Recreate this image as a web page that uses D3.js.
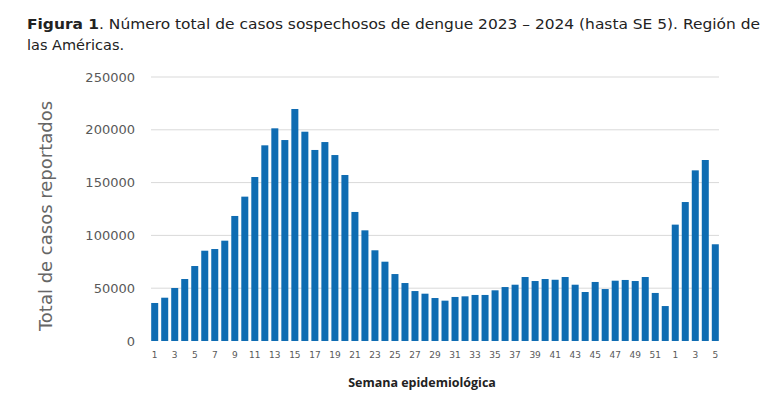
<!DOCTYPE html>
<html>
<head>
<meta charset="utf-8">
<script src="https://cdn.jsdelivr.net/npm/d3@7"></script>
<style>
  body { margin: 0; background: #fff; }
  svg { display: block; }
</style>
</head>
<body>
<div id="chart"></div>
<script>
// cases per epi week, 2023 (SE 1-52) then 2024 (SE 1-5)
var weeks2023 = d3.range(1, 53);
var weeks2024 = [1, 2, 3, 4, 5];
var cases2023 = [36000, 41000, 50200, 58700, 71000, 85500, 87100, 95000, 118400, 136700,
  155300, 185300, 201400, 190300, 219700, 198200, 180900, 188400, 176100, 157200,
  122200, 104800, 85900, 75100, 63400, 54900, 47300, 44800, 40700, 38200,
  41700, 42300, 43600, 43600, 48000, 51100, 53300, 60600, 56800, 58700,
  58000, 60600, 53300, 46400, 55900, 49200, 57100, 57800, 56800, 60600,
  45500, 33100];
var cases2024 = [110200, 131600, 161600, 171400, 91600];
var yTicks = [0, 50000, 100000, 150000, 200000, 250000];

var data = weeks2023.map(function(w, i) { return { key: "2023-" + w, week: w, value: cases2023[i] }; })
  .concat(weeks2024.map(function(w, i) { return { key: "2024-" + w, week: w, value: cases2024[i] }; }));

// note: "top" is reserved on window, so plot edges get a prefix
var svgWidth = 777, svgHeight = 393;
var plotLeft = 151, plotRight = 719, plotTop = 77, plotBottom = 341;

var svg = d3.select("#chart").append("svg")
  .attr("width", svgWidth)
  .attr("height", svgHeight);

// title
var title = svg.append("text")
  .attr("x", 27).attr("y", 29)
  .style("font-family", "'DejaVu Sans', sans-serif")
  .style("font-size", "14.5px")
  .attr("fill", "#222");
title.append("tspan").attr("font-weight", "bold").text("Figura 1");
title.append("tspan").text(". Número total de casos sospechosos de dengue 2023 – 2024 (hasta SE 5). Región de");
title.attr("textLength", 733).attr("lengthAdjust", "spacingAndGlyphs");

svg.append("text")
  .attr("x", 27).attr("y", 50)
  .style("font-family", "'DejaVu Sans', sans-serif")
  .style("font-size", "14.5px")
  .attr("fill", "#222")
  .text("las Américas.");

var x = d3.scaleBand()
  .domain(data.map(function(d) { return d.key; }))
  .range([plotLeft, plotRight])
  .paddingInner(0.3)
  .paddingOuter(0.02);

var y = d3.scaleLinear()
  .domain([0, 250000])
  .range([plotBottom, plotTop]);

// gridlines
svg.append("g")
  .selectAll("line")
  .data(yTicks.filter(function(t) { return t > 0; }))
  .enter()
  .append("line")
    .attr("x1", plotLeft).attr("x2", plotRight)
    .attr("y1", function(d) { return y(d); })
    .attr("y2", function(d) { return y(d); })
    .attr("stroke", "#d9d9d9")
    .attr("stroke-width", 1);

// y axis labels
var yAxis = svg.append("g")
  .attr("transform", "translate(" + (plotLeft - 16) + ",0)")
  .call(d3.axisLeft(y).tickValues(yTicks).tickSize(0).tickPadding(0).tickFormat(d3.format("d")));
yAxis.select(".domain").remove();
yAxis.selectAll("text")
  .style("font-family", "'DejaVu Sans', sans-serif")
  .style("font-size", "13px")
  .attr("fill", "#595959");

// bars
svg.append("g")
  .selectAll("rect")
  .data(data)
  .enter()
  .append("rect")
    .attr("x", function(d) { return x(d.key); })
    .attr("y", function(d) { return y(d.value); })
    .attr("width", x.bandwidth())
    .attr("height", function(d) { return y(0) - y(d.value); })
    .attr("fill", "#0f6cb2");

// x axis labels, every other week
var xAxis = svg.append("g")
  .attr("transform", "translate(0," + plotBottom + ")")
  .call(d3.axisBottom(x).tickSize(0).tickPadding(11)
    .tickFormat(function(k) { var w = +k.split("-")[1]; return w % 2 === 1 ? w : ""; }));
xAxis.select(".domain").remove();
xAxis.selectAll("text")
  .style("font-family", "'DejaVu Sans', sans-serif")
  .style("font-size", "9px")
  .attr("fill", "#595959");

// axis titles
svg.append("text")
  .attr("transform", "translate(52," + ((plotTop + plotBottom) / 2 + 7) + ") rotate(-90)")
  .attr("text-anchor", "middle")
  .style("font-family", "'DejaVu Sans', sans-serif")
  .style("font-size", "18px")
  .attr("fill", "#666")
  .text("Total de casos reportados");

svg.append("text")
  .attr("x", 422).attr("y", 387)
  .attr("text-anchor", "middle")
  .style("font-family", "'Open Sans', sans-serif")
  .style("font-size", "12.5px")
  .style("font-weight", "bold")
  .attr("fill", "#222")
  .text("Semana epidemiológica");
</script>
</body>
</html>
